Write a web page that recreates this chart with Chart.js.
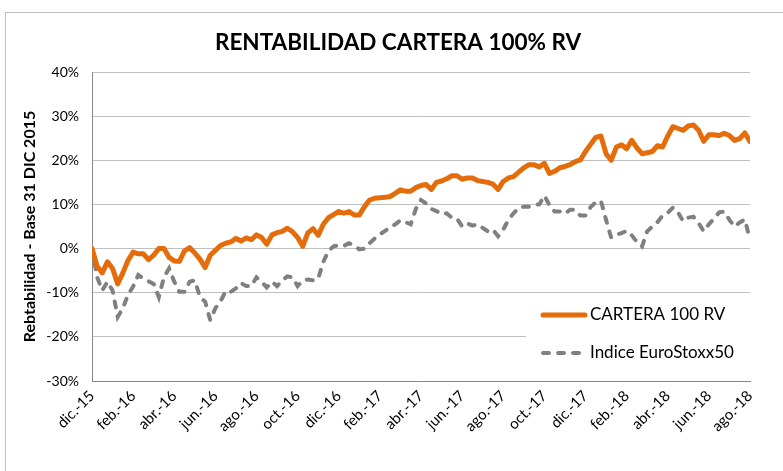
<!DOCTYPE html>
<html>
<head>
<meta charset="utf-8">
<script src="https://cdn.jsdelivr.net/npm/chart.js@4.4.0/dist/chart.umd.min.js"></script>
<style>
  html, body { margin: 0; padding: 0; background: #fff; }
</style>
</head>
<body>
<canvas id="myChart" width="783" height="471"></canvas>
<script>
// tick labels every two months, Dec 2015 .. Aug 2018
var monthLabels = ['dic.-15', 'feb.-16', 'abr.-16', 'jun.-16', 'ago.-16', 'oct.-16',
    'dic.-16', 'feb.-17', 'abr.-17', 'jun.-17', 'ago.-17', 'oct.-17',
    'dic.-17', 'feb.-18', 'abr.-18', 'jun.-18', 'ago.-18'];

// weekly readings (4 per month), % return since 31 dic 2015
var cartera = [
    0, -4, -5.5, -3, -4.5, -8, -5.5, -2.7,
    -0.8, -1.2, -1.2, -2.5, -1.5, 0, 0, -2,
    -2.8, -2.9, -0.5, 0.2, -1, -2.4, -4.3, -1.5,
    -0.4, 0.7, 1.2, 1.5, 2.3, 1.7, 2.4, 2.0,
    3.1, 2.5, 1.0, 3.1, 3.6, 3.9, 4.6, 3.8,
    2.5, 0.5, 3.6, 4.5, 3.0, 5.5, 7.0, 7.7,
    8.4, 8.0, 8.4, 7.6, 7.6, 9.5, 11.0, 11.4,
    11.5, 11.6, 11.8, 12.5, 13.3, 13.0, 13.0, 13.8,
    14.3, 14.5, 13.4, 15.0, 15.3, 15.8, 16.5, 16.5,
    15.7, 16.0, 16.0, 15.4, 15.2, 15.0, 14.6, 13.4,
    15.2, 16.0, 16.3, 17.3, 18.3, 19.0, 19.0, 18.5,
    19.3, 17.0, 17.5, 18.3, 18.6, 19.0, 19.7, 20.1,
    22.0, 23.6, 25.2, 25.5, 21.5, 20.0, 23.0, 23.5,
    22.6, 24.5, 22.8, 21.5, 21.7, 22.0, 23.3, 23.0,
    25.5, 27.6, 27.2, 26.8, 27.8, 28.0, 26.8, 24.3,
    25.8, 25.8, 25.6, 26.1, 25.6, 24.5, 24.9, 26.2,
    24.2
];
var euroStoxx = [
    0, -6.5, -9.5, -7.5, -9.5, -15.5, -13.5, -10.5,
    -8.6, -6, -6.8, -7.4, -8, -11, -6.5, -4.5,
    -7.5, -9.8, -9.8, -7.5, -7.2, -11, -12, -16.2,
    -13.5, -12, -9.6, -9.8, -9, -7.8, -8.5, -8.5,
    -6.5, -7.5, -8.8, -7.5, -8.5, -7.2, -6.3, -6.5,
    -8.5, -7.2, -7, -7.2, -6.8, -3, -0.5, 0.5,
    0.8, 0.6, 1.2, 0.7, -0.2, 0, 1.2, 2.3,
    3.2, 4, 4.8, 5.5, 6.4, 6, 5.5, 9,
    11, 10.2, 9, 8.5, 7.8, 8, 7, 6.8,
    5, 5.7, 5.2, 5.5, 4.7, 3.9, 4.3, 2.8,
    4.3, 6.5, 8, 9.2, 9.5, 9.5, 9.9, 10,
    12, 9.8, 8.4, 8.4, 7.9, 8.8, 8.8, 7.5,
    7.5, 9.4, 10.5, 10.8, 6.5, 2.5, 3.1, 3.5,
    4, 3, 1.5, 0.5, 3.9, 5, 6, 7.5,
    8.1, 9.3, 8.2, 6.2, 7, 7.2, 5.8, 3.9,
    5.5, 6.8, 8.2, 8.4, 6.5, 5, 5.9, 6.6,
    2
];
var pointsPerMonth = 4;

function toPoints(arr) {
    return arr.map(function (v, i) { return { x: i / pointsPerMonth, y: v }; });
}

var fontName = 'Lato, "Open Sans", sans-serif';

// white page + thin frame like the excel chart area
var frame = {
    id: 'frame',
    beforeDraw: function (chart) {
        var ctx = chart.ctx;
        ctx.save();
        ctx.fillStyle = '#fff';
        ctx.fillRect(0, 0, chart.width, chart.height);
        ctx.strokeStyle = '#BFBFBF';
        ctx.lineWidth = 1;
        ctx.strokeRect(5.5, 12.5, chart.width, chart.height);
        ctx.restore();
    }
};

// legend sits inside the plot, lower right
var insideLegend = {
    id: 'insideLegend',
    afterDraw: function (chart) {
        var ctx = chart.ctx;
        var a = chart.chartArea;
        var x0 = a.right - 224, y0 = a.bottom - 83;
        ctx.save();
        ctx.fillStyle = '#fff';
        ctx.fillRect(x0, y0, a.right - x0, 78);
        chart.data.datasets.forEach(function (ds, i) {
            var y = y0 + 17 + i * 38;
            ctx.beginPath();
            ctx.strokeStyle = ds.borderColor;
            ctx.lineWidth = ds.borderWidth;
            ctx.lineCap = 'round';
            ctx.setLineDash(ds.borderDash || []);
            ctx.moveTo(x0 + 17, y);
            ctx.lineTo(x0 + 59, y);
            ctx.stroke();
            ctx.setLineDash([]);
            ctx.fillStyle = '#000';
            ctx.font = '17px ' + fontName;
            ctx.textBaseline = 'middle';
            ctx.textAlign = 'left';
            ctx.fillText(ds.label, x0 + 64, y);
        });
        ctx.restore();
    }
};

var ctx = document.getElementById('myChart').getContext('2d');
var myChart = new Chart(ctx, {
    type: 'line',
    data: {
        datasets: [{
            label: 'CARTERA 100 RV',
            data: toPoints(cartera),
            borderColor: '#E46C0A',
            borderWidth: 5,
            borderJoinStyle: 'round',
            borderCapStyle: 'round',
            pointRadius: 0,
            tension: 0
        }, {
            label: 'Indice EuroStoxx50',
            data: toPoints(euroStoxx),
            borderColor: '#808080',
            borderWidth: 4,
            borderDash: [6, 9],
            borderCapStyle: 'round',
            pointRadius: 0,
            tension: 0
        }]
    },
    options: {
        responsive: false,
        animation: false,
        // left padding pushes the title centre right; y labels must stay inside the axis box (clipped)
        layout: { padding: { left: 46, right: 33, top: 0, bottom: 0 } },
        plugins: {
            legend: { display: false },
            tooltip: { enabled: false },
            title: {
                display: true,
                text: 'RENTABILIDAD CARTERA 100% RV',
                color: '#000',
                font: { family: fontName, size: 22.5, weight: 'bold' },
                padding: { top: 29, bottom: 16 }
            }
        },
        scales: {
            x: {
                type: 'linear',
                min: 0,
                max: 32,
                grid: { display: false, drawTicks: false },
                border: { display: true, color: '#868686' },
                ticks: {
                    stepSize: 2,
                    autoSkip: false,
                    minRotation: 45,
                    maxRotation: 45,
                    padding: 6,
                    color: '#000',
                    font: { family: fontName, size: 15 },
                    callback: function (v) { return monthLabels[v / 2]; }
                },
                afterFit: function (scale) { scale.height = 90; }
            },
            y: {
                min: -30,
                max: 40,
                grid: { color: '#BFBFBF', drawTicks: false },
                border: { display: true, color: '#868686' },
                ticks: {
                    stepSize: 10,
                    padding: 13,
                    color: '#000',
                    font: { family: fontName, size: 14 },
                    callback: function (v) { return v + '%'; }
                },
                title: {
                    display: true,
                    text: 'Rebtabilidad - Base 31 DIC 2015',
                    color: '#000',
                    font: { family: fontName, size: 16, weight: 'bold' },
                    padding: { top: -25.6, bottom: 0 }
                },
                afterFit: function (scale) { scale.width = 46; }
            }
        }
    },
    plugins: [frame, insideLegend]
});
</script>
</body>
</html>
